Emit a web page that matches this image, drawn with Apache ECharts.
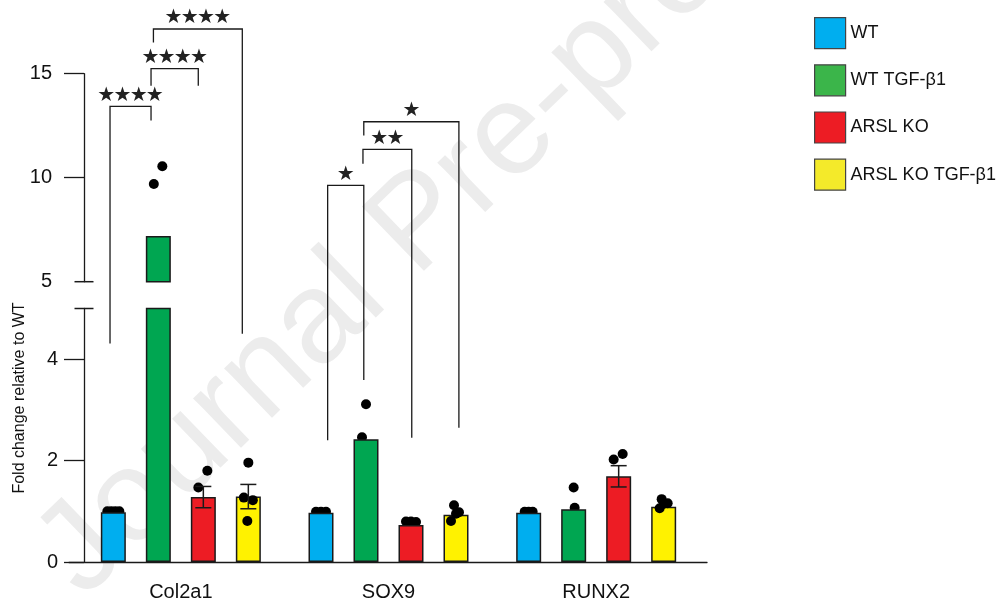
<!DOCTYPE html>
<html><head><meta charset="utf-8">
<script src="https://cdn.jsdelivr.net/npm/echarts@6/dist/echarts.min.js"></script>
<style>html,body{margin:0;padding:0;background:#fff}#c{width:1003px;height:606px}</style>
</head><body><div id="c"></div>
<script>
// ---------------- data ----------------
const categories = ['Col2a1', 'SOX9', 'RUNX2'];
const groups = ['WT', 'WT TGF-β1', 'ARSL KO', 'ARSL KO TGF-β1'];

const meanWT     = [0.98, 0.97, 0.97];
const meanWTTGF  = [7.2, 2.42, 1.04];
const meanKO     = [1.28, 0.73, 1.69];
const meanKOTGF  = [1.29, 0.93, 1.09];

const semWT    = [0, 0, 0];
const semWTTGF = [0, 0, 0];
const semKO    = [0.21, 0, 0.21];
const semKOTGF = [0.24, 0, 0];

const dotsWT    = [[1.0, 1.0, 1.0, 1.0], [0.99, 0.99, 0.99], [0.99, 0.99, 0.99]];
const dotsWTTGF = [[9.7, 10.55], [3.11, 2.46], [1.47, 1.07]];
const dotsKO    = [[1.80, 1.47], [0.80, 0.80, 0.79], [2.02, 2.13]];
const dotsKOTGF = [[1.96, 1.27, 1.22, 0.81], [1.12, 0.98, 0.81, 0.95], [1.24, 1.16, 1.06, 1.15]];

// horizontal jitter of each dot (pixels)
const jitWT    = [[-6, -2, 2, 6], [-5, 0, 5], [-4, 0, 4]];
const jitWTTGF = [[-4.5, 4], [0, -4], [0, 1]];
const jitKO    = [[4, -5], [-5, 0, 5], [-5, 4]];
const jitKOTGF = [[0, -4.5, 4.5, -1], [-2, 3, -5, 0], [-2, 4, -4, 0]];

const lowerTickValues = [0, 2, 4];
const upperTickValues = [10, 15];
const upperLabelValues = [5, 10, 15];

// significance brackets (x in category units, top on the upper axis; ends: [segment(0 lower,1 upper), value])
const bracketLeftX  = [-0.341, -0.1435, -0.132, 0.707, 0.877, 0.881];
const bracketRightX = [-0.1435, 0.084, 0.296, 0.881, 1.112, 1.339];
const bracketTop    = [13.43, 15.24, 17.15, 9.63, 11.36, 12.69];
const bracketLeftEnd  = [[0, 4.31], [1, 14.42], [1, 16.5], [0, 2.40], [1, 10.67], [1, 12.03]];
const bracketRightEnd = [[1, 12.75], [1, 14.42], [0, 4.5], [0, 3.59], [0, 2.45], [0, 2.65]];
const bracketStars  = ['****', '****', '****', '*', '**', '*'];

// ---------------- layout / style ----------------
const FONT = '"Liberation Sans", Arial, sans-serif';
const GRID_LEFT = 77, GRID_W = 623;
const LOWER_TOP = 308.5, LOWER_H = 253.5;
const UPPER_TOP = 73.7, UPPER_H = 208;
const BAR_W = 25, BAR_GAP = 0.8;
const colors = ['#00AEEF', '#00A651', '#ED1C24', '#FFF200'];
const legendColors = ['#00AEEF', '#3BB54A', '#ED1C24', '#F4EA2A'];
const INK = '#1a1a1a';

const means = [meanWT, meanWTTGF, meanKO, meanKOTGF];
const sems = [semWT, semWTTGF, semKO, semKOTGF];
const dots = [dotsWT, dotsWTTGF, dotsKO, dotsKOTGF];
const jits = [jitWT, jitWTTGF, jitKO, jitKOTGF];

const bandPx = GRID_W / categories.length;
const groupOffset = groups.map((g, k) => (k - (groups.length - 1) / 2) * BAR_W * (1 + BAR_GAP) / bandPx);

const chart = echarts.init(document.getElementById('c'), null, {renderer: 'canvas'});

const series = [];
groups.forEach((g, k) => {
  const st = {color: colors[k], borderColor: INK, borderWidth: 1.5};
  series.push({type: 'bar', name: g, xAxisIndex: 0, yAxisIndex: 0, data: means[k],
    barWidth: BAR_W, barGap: (BAR_GAP * 100) + '%', itemStyle: st, z: 2, clip: true, silent: true});
  series.push({type: 'bar', name: g, xAxisIndex: 1, yAxisIndex: 1, data: means[k].map(v => v > 5 ? v : '-'),
    barWidth: BAR_W, barGap: (BAR_GAP * 100) + '%', itemStyle: st, z: 2, clip: true, silent: true});
});

groups.forEach((g, k) => {
  const lower = [], upper = [];
  categories.forEach((c, i) => {
    dots[k][i].forEach((v, j) => {
      const x = i + groupOffset[k] + jits[k][i][j] / bandPx;
      (v > 5 ? upper : lower).push([x, v]);
    });
  });
  const common = {type: 'scatter', name: g + ' points', symbolSize: 10, itemStyle: {color: '#000', opacity: 1}, z: k === 3 ? 3 : 1, silent: true};
  series.push(Object.assign({}, common, {xAxisIndex: 2, yAxisIndex: 0, data: lower}));
  if (upper.length) series.push(Object.assign({}, common, {xAxisIndex: 3, yAxisIndex: 1, data: upper}));
});

const errData = [];
groups.forEach((g, k) => categories.forEach((c, i) => {
  if (sems[k][i] > 0) errData.push([i + groupOffset[k], means[k][i] - sems[k][i], means[k][i] + sems[k][i]]);
}));
series.push({type: 'custom', name: 'err', xAxisIndex: 2, yAxisIndex: 0, data: errData, z: 4, silent: true, clip: false,
  renderItem: (p, api) => {
    const lo = api.coord([api.value(0), api.value(1)]);
    const hi = api.coord([api.value(0), api.value(2)]);
    const hw = 8, ls = {stroke: INK, lineWidth: 1.5};
    return {type: 'group', children: [
      {type: 'line', shape: {x1: lo[0], y1: lo[1], x2: hi[0], y2: hi[1]}, style: ls},
      {type: 'line', shape: {x1: lo[0] - hw, y1: lo[1], x2: lo[0] + hw, y2: lo[1]}, style: ls},
      {type: 'line', shape: {x1: hi[0] - hw, y1: hi[1], x2: hi[0] + hw, y2: hi[1]}, style: ls}
    ]};
  }});

const bracketData = bracketTop.map((t, i) => [bracketLeftX[i], t, bracketRightX[i],
  bracketLeftEnd[i][0], bracketLeftEnd[i][1], bracketRightEnd[i][0], bracketRightEnd[i][1]]);
series.push({type: 'custom', name: 'sig', xAxisIndex: 3, yAxisIndex: 1, data: bracketData, z: 5, silent: true, clip: false,
  renderItem: (p, api) => {
    const i = p.dataIndex;
    const pl = api.coord([api.value(0), api.value(1)]);
    const pr = api.coord([api.value(2), api.value(1)]);
    const endY = (seg, v, x) => seg === 1 ? api.coord([x, v])[1] : chart.convertToPixel({yAxisIndex: 0}, v);
    const yl = endY(api.value(3), api.value(4), api.value(0));
    const yr = endY(api.value(5), api.value(6), api.value(2));
    const children = [{type: 'polyline', shape: {points: [[pl[0], yl], pl, pr, [pr[0], yr]]},
      style: {stroke: INK, lineWidth: 1.3, fill: null}}];
    const s = bracketStars[i], n = s.length, sp = 16.2, mid = (pl[0] + pr[0]) / 2;
    for (let j = 0; j < n; j++) {
      children.push({type: 'text', x: mid - (n - 1) * sp / 2 + j * sp, y: pl[1] - 11,
        style: {text: '★', fontSize: 20, fontFamily: '"DejaVu Sans", sans-serif', fill: '#222', align: 'center', verticalAlign: 'middle'}});
    }
    return {type: 'group', children};
  }});

const axisLineStyle = {color: INK, width: 1.3};
const option = {
  animation: false,
  backgroundColor: '#fff',
  textStyle: {fontFamily: FONT},
  grid: [
    {left: GRID_LEFT, width: GRID_W, top: LOWER_TOP, height: LOWER_H},
    {left: GRID_LEFT, width: GRID_W, top: UPPER_TOP, height: UPPER_H},
    {left: GRID_LEFT - 8, width: GRID_W + 15, top: LOWER_TOP, height: LOWER_H}
  ],
  xAxis: [
    {gridIndex: 0, type: 'category', data: categories, axisLine: {show: false},
     axisTick: {alignWithLabel: true, length: 13, lineStyle: axisLineStyle},
     axisLabel: {fontSize: 20, color: '#111', margin: 20, fontFamily: FONT}},
    {gridIndex: 1, type: 'category', data: categories, show: false},
    {gridIndex: 0, type: 'value', min: -0.5, max: 2.5, show: false},
    {gridIndex: 1, type: 'value', min: -0.5, max: 2.5, show: false},
    {gridIndex: 2, type: 'value', min: 0, max: 1, axisLine: {show: true, onZero: false, lineStyle: axisLineStyle},
     axisTick: {show: false}, axisLabel: {show: false}, splitLine: {show: false}}
  ],
  yAxis: [
    {gridIndex: 0, type: 'value', min: 0, max: 5, offset: -7,
     axisLine: {show: true, onZero: false, lineStyle: axisLineStyle, symbol: ['none', 'rect'], symbolSize: [19, 1.5]},
     axisTick: {show: true, length: 20, lineStyle: axisLineStyle, customValues: lowerTickValues},
     axisLabel: {customValues: lowerTickValues, fontSize: 20, color: '#111', margin: 26, fontFamily: FONT},
     splitLine: {show: false}},
    {gridIndex: 1, type: 'value', min: 5, max: 15, offset: -7,
     axisLine: {show: true, onZero: false, lineStyle: axisLineStyle, symbol: ['rect', 'none'], symbolSize: [19, 1.5]},
     axisTick: {show: true, length: 20, lineStyle: axisLineStyle, customValues: upperTickValues},
     axisLabel: {customValues: upperLabelValues, fontSize: 20, color: '#111', margin: 32, fontFamily: FONT},
     splitLine: {show: false}},
    {gridIndex: 2, type: 'value', min: 0, max: 1, show: false}
  ],
  legend: {
    orient: 'vertical', left: 814, top: 17, padding: 0, itemWidth: 31, itemHeight: 31, itemGap: 15,
    icon: 'rect', selectedMode: false,
    textStyle: {fontSize: 18, color: '#111', fontFamily: FONT},
    data: groups.map((g, k) => ({name: g, itemStyle: {color: legendColors[k], borderColor: '#444', borderWidth: 1.2}}))
  },
  graphic: [
    {type: 'text', x: 420, y: 225, rotation: 44 * Math.PI / 180, z: -10, silent: true,
     style: {text: 'Journal Pre-proof', fontSize: 130, fontFamily: FONT, fill: '#ececec', align: 'center', verticalAlign: 'middle'}},
    {type: 'text', x: 20, y: 398, rotation: Math.PI / 2, silent: true,
     style: {text: 'Fold change relative to WT', fontSize: 16, fontFamily: FONT, fill: '#111', align: 'center', verticalAlign: 'middle'}}
  ],
  series
};
chart.setOption(option);
</script>
</body></html>
